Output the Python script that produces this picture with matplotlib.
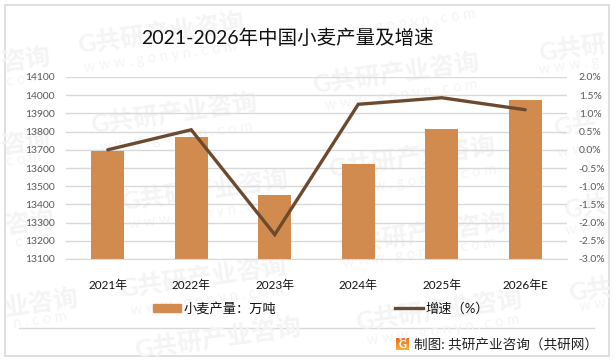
import numpy as np
import matplotlib
matplotlib.use('Agg')
import matplotlib.pyplot as plt
from matplotlib.colors import LinearSegmentedColormap
from matplotlib.lines import Line2D
from matplotlib.patches import Patch, Rectangle

plt.rcParams['font.family'] = ['Lato', 'Noto Sans CJK SC', 'DejaVu Sans']

W, H = 616, 361

years = ['2021年', '2022年', '2023年', '2024年', '2025年', '2026年E']
output = [13695, 13770, 13450, 13620, 13815, 13975]
growth = [0.0, 0.55, -2.33, 1.25, 1.43, 1.10]
left_ticks = [13100, 13200, 13300, 13400, 13500, 13600, 13700, 13800, 13900, 14000, 14100]
right_ticks = [-3.0, -2.5, -2.0, -1.5, -1.0, -0.5, 0.0, 0.5, 1.0, 1.5, 2.0]

title = '2021-2026年中国小麦产量及增速'
source = '制图: 共研产业咨询\uff08共研网\uff09'
bar_label = '小麦产量\uff1a万吨'
line_label = '增速\uff08%\uff09'

# watermark pieces as visible in the picture: centre x, centre y, text
mark_x = [161, 174, 26, 26, 205, 30, 203, 42, 218, 396, 572, 412, 575, 423, 585, 439, 590]
mark_y = [33, 113, 60, 143, 190, 223, 277, 303, 338, 73, 48, 157, 125, 233, 207, 310, 290]
mark_txt = ['G共研产业咨询', 'G共研产业咨询', '咨询', '咨询', 'G共研产业咨询', '咨询', 'G共研产业咨询',
            '业咨询', 'G共研产业咨询', 'G共研产业咨询', 'G共研', 'G共研产业咨询', 'G共', 'G共研产业咨询',
            'G共', 'G共研产业咨询', 'G共']
url_x = [160, 176, 24, 24, 205, 33, 207, 40, 399, 401, 569, 420, 578, 419, 586, 443, 593]
url_y = [57, 137, 80, 160, 214, 241, 300, 320, 24, 95, 66, 180, 150, 253, 228, 330, 305]
url_txt = ['w w w . g o n y n . c o m', 'w w w . g o n y n . c o m', 'c o m', 'c o m',
           'w w w . g o n y n . c o m', 'c o m', 'w w w . g o n y n . c o m', 'n . c o m',
           'w w w . g o n y n . c o m', 'w w w . g o n y n . c o m', 'w w w . g',
           'w w w . g o n y n . c o m', 'w w w', 'w w w . g o n y n . c o m', 'w w w',
           'w w w . g o n y n . c o m', 'w w']

BAR = '#D18B4E'
LINE = '#6B4A2F'
GRID = '#D9D9D9'
MARK = '#F4F4F4'

fig = plt.figure(figsize=(W / 100, H / 100), dpi=100)

# background layer in pixel coordinates
bg = fig.add_axes([0, 0, 1, 1], zorder=0)
bg.axis('off')

for x, y, t in zip(mark_x, mark_y, mark_txt):
    bg.text(x, y, t, fontsize=18, fontweight='bold', color=MARK, rotation=8,
            ha='center', va='center')
for x, y, t in zip(url_x, url_y, url_txt):
    bg.text(x, y, t, fontsize=10.5, color=MARK, rotation=8, ha='center', va='center')

bg.add_patch(Rectangle((4.5, 4.5), 604.5, 351, fill=False, ec=GRID, lw=1.2))
bg.plot([19, 594], [328, 328], color=GRID, lw=1.0)
bg.text(287, 38, title, fontsize=14, color='#111111', ha='center', va='center')

# logo next to the source line
grad = np.linspace(0, 1, 32).reshape(-1, 1)
logo_cmap = LinearSegmentedColormap.from_list('logo', ['#F26A21', '#F9B233'])
bg.imshow(grad, extent=(396, 409, 350, 338), cmap=logo_cmap, aspect='auto', zorder=2)
bg.text(402.5, 344, 'G', fontsize=8, fontweight='bold', color='white', ha='center', va='center', zorder=3)
bg.text(414, 345, source, fontsize=9.8, color='#222222', ha='left', va='center')
bg.set_xlim(0, W)
bg.set_ylim(H, 0)

# chart
x0, x1, y_top, y_bot = 66, 567, 77, 259
ax = fig.add_axes([x0 / W, 1 - y_bot / H, (x1 - x0) / W, (y_bot - y_top) / H], zorder=1)
ax.patch.set_alpha(0)
pos = np.arange(len(years))
ax.bar(pos, output, width=0.4, color=BAR, zorder=2)
ax.set_xlim(-0.5, 5.5)
ax.set_ylim(13100, 14100)
ax.set_yticks(left_ticks)
ax.set_xticks(pos)
ax.set_xticklabels(years, fontsize=8.5, color='#111111')
ax.tick_params(axis='x', length=0, pad=15)
ax.tick_params(axis='y', length=0, pad=8, labelsize=7.5, labelcolor='#595959')
ax.grid(axis='y', color=GRID, lw=1.0, zorder=1)
ax.set_axisbelow(True)
for s in ['top', 'left', 'right']:
    ax.spines[s].set_visible(False)
ax.spines['bottom'].set_color(GRID)

ax2 = ax.twinx()
ax2.plot(pos, growth, color=LINE, lw=2.4, solid_joinstyle='miter', solid_capstyle='round', zorder=3)
ax2.set_ylim(-3.0, 2.0)
ax2.set_yticks(right_ticks)
ax2.set_yticklabels(['%.1f%%' % v for v in right_ticks])
ax2.tick_params(axis='y', length=0, pad=8.5, labelsize=7.5, labelcolor='#595959')
for s in ax2.spines.values():
    s.set_visible(False)

handles = [Patch(color=BAR), Line2D([0], [0], color=LINE, lw=2.4)]
fig.legend(handles, [bar_label, line_label], ncols=2, frameon=False,
           loc='center', bbox_to_anchor=(321 / W, 1 - 308 / H), fontsize=9.5,
           labelcolor='#111111', columnspacing=9.0, handlelength=2.1,
           handleheight=0.6, handletextpad=0.2)

fig.savefig('out.png', dpi=100)
